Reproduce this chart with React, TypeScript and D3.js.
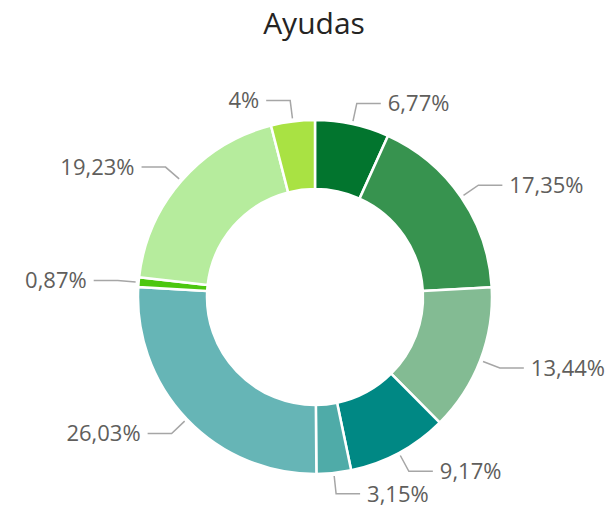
import React from "react";
import * as d3 from "d3";

const categories = ["A", "B", "C", "D", "E", "F", "G", "H", "I"];
const values = [6.77, 17.35, 13.44, 9.17, 3.15, 26.03, 0.87, 19.23, 4];
const labels = ["6,77%", "17,35%", "13,44%", "9,17%", "3,15%", "26,03%", "0,87%", "19,23%", "4%"];
const colors = ["#02752E", "#37934F", "#83BB93", "#008884", "#4FABA8", "#66B5B6", "#4CC70F", "#B6EC9D", "#A9E243"];

export default function App() {
  const width = 612;
  const height = 513;
  const cx = 315;
  const cy = 297;
  const R = 177;
  const r = 108;

  const pie = d3.pie<number>().sort(null).value((d) => d);
  const arcs = pie(values);
  const arc = d3.arc<d3.PieArcDatum<number>>().innerRadius(r).outerRadius(R);

  return (
    <svg width={width} height={height} style={{ position: "absolute", left: 0, top: 0 }}>
      <rect width={width} height={height} fill="#fff" />
      <text x={314} y={34} textAnchor="middle" fontFamily="'Open Sans', sans-serif" fontSize={30} fill="#252423">
        Ayudas
      </text>
      <g transform={`translate(${cx},${cy})`}>
        {arcs.map((a, i) => (
          <path key={categories[i]} d={arc(a) || ""} fill={colors[i]} stroke="#fff" strokeWidth={2.5} strokeLinejoin="round" />
        ))}
        {arcs.map((a, i) => {
          const mid = (a.startAngle + a.endAngle) / 2;
          const s = Math.sin(mid);
          const c = -Math.cos(mid);
          const x1 = (R + 3) * s;
          const y1 = (R + 3) * c;
          const x2 = (R + 21) * s;
          const y2 = (R + 21) * c;
          const dir = s >= 0 ? 1 : -1;
          const x3 = x2 + dir * 24;
          return (
            <g key={"l" + i}>
              <polyline points={`${x1},${y1} ${x2},${y2} ${x3},${y2}`} fill="none" stroke="#A6A6A6" strokeWidth={1.5} />
              <text
                x={x3 + dir * 7}
                y={y2}
                dy="0.36em"
                textAnchor={dir > 0 ? "start" : "end"}
                fontFamily="'Open Sans', sans-serif"
                fontSize={22}
                fill="#605E5C"
              >
                {labels[i]}
              </text>
            </g>
          );
        })}
      </g>
    </svg>
  );
}
